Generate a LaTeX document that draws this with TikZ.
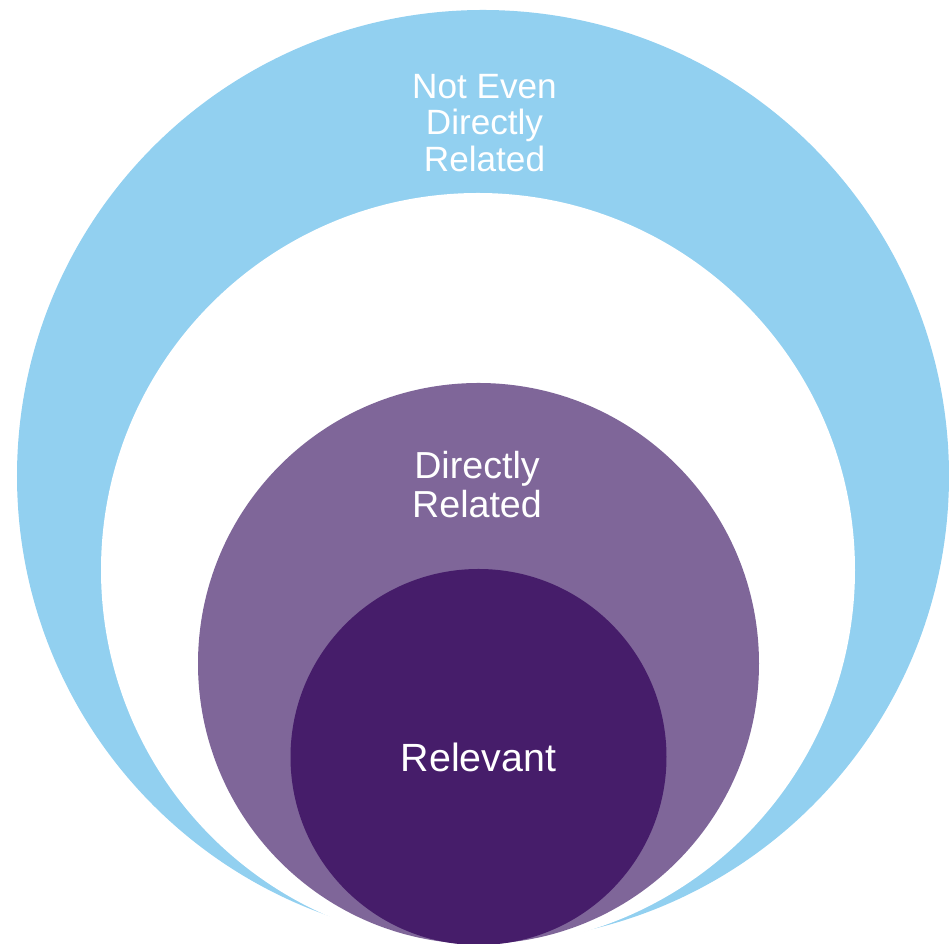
\documentclass[tikz,border=0pt]{standalone}
\usepackage{fontspec}
\setmainfont{Liberation Sans}
\definecolor{skyblue}{HTML}{92D0F0}
\definecolor{midpurple}{HTML}{7F6699}
\definecolor{darkpurple}{HTML}{461D6A}
\begin{document}
\begin{tikzpicture}[
  ring/.style={circle,draw=none,inner sep=0pt,minimum size=#1cm},
  ringtext/.style={text=white,inner sep=0pt,align=center}]
  \useasboundingbox (0,0) rectangle (9.49,9.44);
  % circles, outermost first
  \node[ring=9.32,fill=skyblue] (outer) at (4.83,4.68) {};
  \node[ring=7.54,fill=white] (gap) at (4.78,3.74) {};
  \node[ring=5.61,fill=midpurple] (direct) at (4.785,2.805) {};
  \node[ring=3.76,fill=darkpurple] (relevant) at (4.785,1.87) {};
  % labels
  \node[ringtext,font=\fontsize{10}{10.5}\selectfont] (outerlabel) at (4.845,8.21)
    {Not Even\\Directly\\Related};
  \node[ringtext,font=\fontsize{10.7}{11.1}\selectfont] (directlabel) at (4.77,4.59)
    {Directly\\Related};
  \node[ringtext,font=\fontsize{11.2}{13}\selectfont] (relevantlabel) at (relevant)
    {Relevant};
\end{tikzpicture}
\end{document}
